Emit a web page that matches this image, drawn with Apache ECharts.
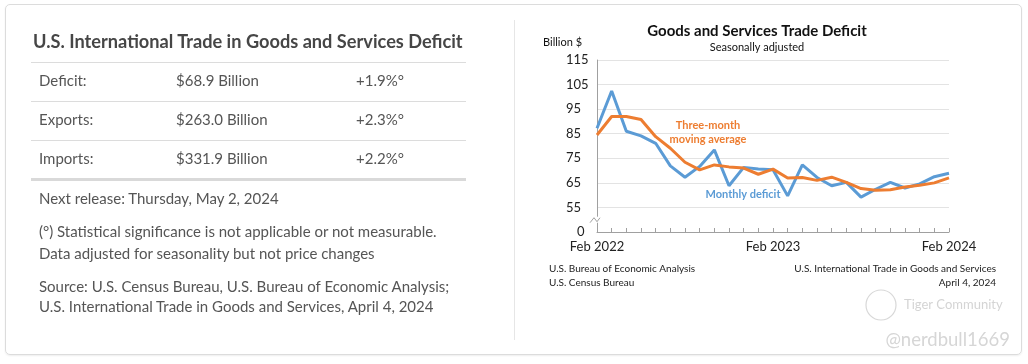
<!DOCTYPE html>
<html><head><meta charset="utf-8">
<script src="https://cdn.jsdelivr.net/npm/echarts@6/dist/echarts.min.js"></script>
<style>
html,body{margin:0;padding:0;width:1028px;height:364px;background:#fff;overflow:hidden;font-family:Lato,sans-serif;}
#card{position:absolute;left:5px;top:4px;width:1015px;height:349px;border:1px solid #dcdcdc;border-radius:5px;box-shadow:0 1px 2px rgba(0,0,0,0.07);}
#divider{position:absolute;left:514px;top:20px;width:1px;height:320px;background:#e6e6e6;}
#chart{position:absolute;left:0;top:0;width:1028px;height:364px;}
#left{position:absolute;left:0;top:0;width:505px;height:364px;color:#555;}
.t{position:absolute;white-space:nowrap;font-size:15px;line-height:15px;}
.title{font-size:18.2px;line-height:18.2px;font-weight:bold;color:#464646;left:33px;top:32px;}
.rule{position:absolute;left:31px;width:435px;height:1px;background:#dcdcdc;}
</style></head>
<body>
<div id="card"></div>
<div id="divider"></div>
<div id="chart"></div>
<div id="left"></div>
<script>
// ---- table data ----
const tableTitle = 'U.S. International Trade in Goods and Services Deficit';
const rowLabels = ['Deficit:', 'Exports:', 'Imports:'];
const rowAmounts = ['$68.9 Billion', '$263.0 Billion', '$331.9 Billion'];
const rowChanges = ['+1.9%°', '+2.3%°', '+2.2%°'];
const noteLines = [
  'Next release: Thursday, May 2, 2024',
  '(°) Statistical significance is not applicable or not measurable.',
  'Data adjusted for seasonality but not price changes',
  'Source: U.S. Census Bureau, U.S. Bureau of Economic Analysis;',
  'U.S. International Trade in Goods and Services, April 4, 2024'
];

// ---- chart data ----
const categories = ['Feb 2022','Mar 2022','Apr 2022','May 2022','Jun 2022','Jul 2022','Aug 2022','Sep 2022','Oct 2022','Nov 2022','Dec 2022','Jan 2023',
  'Feb 2023','Mar 2023','Apr 2023','May 2023','Jun 2023','Jul 2023','Aug 2023','Sep 2023','Oct 2023','Nov 2023','Dec 2023','Jan 2024','Feb 2024'];
const monthlyDeficit = [87.2,102.4,86.0,84.1,81.1,71.9,67.3,71.7,78.4,63.8,71.3,70.6,70.3,59.7,72.3,67.2,63.8,65.2,59.2,62.4,65.2,62.9,64.6,67.5,68.9];
const movingAverage = [84.5,92.0,92.0,90.8,83.8,79.1,73.4,70.3,72.3,71.5,71.0,68.5,70.6,67.0,67.2,66.0,67.3,65.2,62.7,62.0,62.2,63.3,64.0,65.0,67.0];
const shownXLabels = ['Feb 2022','Feb 2023','Feb 2024'];
const yTicks = [45,55,65,75,85,95,105,115];
const yTickLabels = ['0','55','65','75','85','95','105','115'];

// ---- left panel (HTML text) ----
(function(){
  const L = document.getElementById('left');
  let h = '<div class="t title">'+tableTitle+'</div>';
  const ruleY = [62,101,140];
  ruleY.forEach(y=>{ h += '<div class="rule" style="top:'+y+'px"></div>'; });
  h += '<div class="rule" style="top:178px;height:3px;background:#d9d9d9"></div>';
  const rowTop = [73,112,151];
  rowLabels.forEach((r,i)=>{
    h += '<div class="t" style="left:39px;top:'+rowTop[i]+'px">'+r+'</div>';
    h += '<div class="t" style="left:176px;top:'+rowTop[i]+'px">'+rowAmounts[i]+'</div>';
    h += '<div class="t" style="left:356px;top:'+rowTop[i]+'px">'+rowChanges[i]+'</div>';
  });
  const noteTop = [191,224,246,279,299];
  noteLines.forEach((n,i)=>{ h += '<div class="t" style="left:39px;top:'+noteTop[i]+'px">'+n+'</div>'; });
  L.innerHTML = h;
})();

// ---- chart ----
const FONT = 'Lato';
const chart = echarts.init(document.getElementById('chart'), null, {renderer:'canvas'});
const option = {
  animation:false,
  backgroundColor:'transparent',
  title:{
    text:'Goods and Services Trade Deficit',
    subtext:'Seasonally adjusted',
    left:752, top:19, textAlign:'center', itemGap:3,
    textStyle:{fontFamily:FONT,fontSize:15,fontWeight:'bold',color:'#111'},
    subtextStyle:{fontFamily:FONT,fontSize:11,color:'#111'}
  },
  grid:{left:597,right:79,top:60,bottom:132,containLabel:false},
  xAxis:{
    type:'category', data:categories, boundaryGap:false,
    axisLine:{lineStyle:{color:'#a0a0a0',width:1}},
    axisTick:{show:true,inside:true,length:4,interval:0,lineStyle:{color:'#a0a0a0'}},
    axisLabel:{interval:0,margin:8,fontFamily:FONT,fontSize:13,color:'#222',
      formatter:(v)=> shownXLabels.indexOf(v)>=0 ? v : ''},
    splitLine:{show:false}
  },
  yAxis:{
    type:'value', min:45, max:115, interval:10,
    axisLine:{show:true,lineStyle:{color:'#a0a0a0'}},
    axisTick:{show:false},
    axisLabel:{align:'left',margin:31,fontFamily:FONT,fontSize:13,color:'#222',
      formatter:(v)=>{const i=yTicks.indexOf(v); return i===0 ? '{z|'+yTickLabels[i]+'}' : (i>=0?yTickLabels[i]:'');},
      rich:{z:{fontFamily:FONT,fontSize:13,color:'#222',padding:[0,0,0,11]}}},
    splitLine:{lineStyle:{color:'#e3e3e3',width:1}}
  },
  series:[
    {name:'Monthly deficit',type:'line',data:monthlyDeficit,symbol:'none',
      lineStyle:{color:'#5b9bd5',width:3},itemStyle:{color:'#5b9bd5'}},
    {name:'Three-month moving average',type:'line',data:movingAverage,symbol:'none',
      lineStyle:{color:'#ed7d31',width:3},itemStyle:{color:'#ed7d31'}}
  ],
  graphic:[
    {type:'text',left:543,top:37,style:{text:'Billion $',fontFamily:FONT,fontSize:11,fill:'#111'}},
    {type:'text',x:708,y:125,style:{text:'Three-month',fontFamily:FONT,fontSize:11,fontWeight:'bold',fill:'#ed7d31',align:'center',verticalAlign:'middle'}},
    {type:'text',x:708,y:139,style:{text:'moving average',fontFamily:FONT,fontSize:11,fontWeight:'bold',fill:'#ed7d31',align:'center',verticalAlign:'middle'}},
    {type:'text',x:743,y:194,style:{text:'Monthly deficit',fontFamily:FONT,fontSize:11,fontWeight:'bold',fill:'#5b9bd5',align:'center',verticalAlign:'middle'}},
    {type:'text',x:549,y:269,style:{text:'U.S. Bureau of Economic Analysis',fontFamily:FONT,fontSize:10,fill:'#222',align:'left',verticalAlign:'middle'}},
    {type:'text',x:549,y:283,style:{text:'U.S. Census Bureau',fontFamily:FONT,fontSize:10,fill:'#222',align:'left',verticalAlign:'middle'}},
    {type:'text',x:996,y:269,style:{text:'U.S. International Trade in Goods and Services',fontFamily:FONT,fontSize:10,fill:'#222',align:'right',verticalAlign:'middle'}},
    {type:'text',x:996,y:283,style:{text:'April 4, 2024',fontFamily:FONT,fontSize:10,fill:'#222',align:'right',verticalAlign:'middle'}},
    {type:'circle',shape:{cx:881,cy:305,r:15},style:{fill:'none',stroke:'#d8d8d8',lineWidth:1.2}},
    {type:'text',x:904,y:305,style:{text:'Tiger Community',fontFamily:FONT,fontSize:13,fill:'#d4d4d4',align:'left',verticalAlign:'middle'}},
    {type:'text',x:1010,y:340,style:{text:'@nerdbull1669',fontFamily:FONT,fontSize:18.5,fill:'#d6d6d6',align:'right',verticalAlign:'middle'}}
  ]
};
chart.setOption(option);

// axis-break zigzag between 0 and 55, placed through the axis scale
const p0 = chart.convertToPixel({gridIndex:0},[0,50]);
const bx = p0[0], by = p0[1];
chart.setOption({graphic:option.graphic.concat([
  {type:'rect',shape:{x:bx-1.5,y:by-3,width:3,height:6},style:{fill:'#fff'},z:100},
  {type:'polyline',shape:{points:[[bx-7,by+3],[bx-3,by-2],[bx,by+2],[bx+3,by-2]]},style:{stroke:'#a0a0a0',fill:'none',lineWidth:1},z:101}
])});
</script>
</body></html>
